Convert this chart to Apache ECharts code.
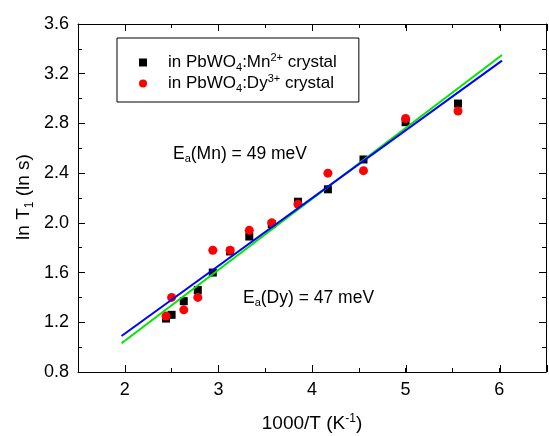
<!DOCTYPE html>
<html>
<head>
<meta charset="utf-8">
<script src="https://cdn.jsdelivr.net/npm/echarts@6/dist/echarts.min.js"></script>
<style>
  html, body { margin: 0; padding: 0; background: #fff; }
  #chart { width: 549px; height: 436px; }
</style>
</head>
<body>
<div id="chart"></div>
<script>
// 1000/T values (K^-1), same temperatures for both crystals
var invT = [2.44, 2.5, 2.63, 2.78, 2.94, 3.125, 3.33, 3.57, 3.85, 4.17, 4.55, 5.0, 5.56];
var lnMn = [1.23, 1.26, 1.37, 1.46, 1.60, 1.77, 1.89, 1.99, 2.17, 2.27, 2.51, 2.81, 2.96];
var lnDy = [1.25, 1.40, 1.30, 1.40, 1.78, 1.78, 1.94, 2.00, 2.15, 2.40, 2.42, 2.84, 2.90];

// linear fits (end points)
var fitMn = [[1.965, 1.09], [6.03, 3.305]];
var fitDy = [[1.965, 1.031], [6.03, 3.35]];

var FONT = '"Liberation Sans", Arial, sans-serif';

function pairs(xs, ys) {
  return xs.map(function (x, i) { return [x, ys[i]]; });
}

var richBase = function (size) {
  return {
    n: { fontSize: size, fontFamily: FONT, color: '#000', lineHeight: size + 4 },
    sub: { fontSize: Math.round(size * 0.65), fontFamily: FONT, color: '#000', verticalAlign: 'bottom', lineHeight: Math.round(size * 0.55) },
    sup: { fontSize: Math.round(size * 0.65), fontFamily: FONT, color: '#000', verticalAlign: 'top', lineHeight: Math.round(size * 0.75) }
  };
};

var chart = echarts.init(document.getElementById('chart'));

var frameX = {
  min: 1.5, max: 6.5,
  axisLine: { show: true, lineStyle: { color: '#000', width: 1 } },
  splitLine: { show: false }
};
var frameY = {
  min: 0.8, max: 3.6, interval: 0.4,
  axisLine: { show: true, lineStyle: { color: '#000', width: 1 } },
  axisTick: { show: true, inside: true, length: 7, lineStyle: { color: '#000' } },
  minorTick: { show: true, splitNumber: 2, length: 4, lineStyle: { color: '#000' } },
  splitLine: { show: false }
};

var option = {
  backgroundColor: '#fff',
  animation: false,
  grid: [
    { left: 78, top: 24, right: 2, bottom: 64 },
    { left: 78, top: 24, right: 2, bottom: 64 }
  ],
  legend: {
    left: 117, top: 38,
    orient: 'vertical',
    padding: [14, 22, 8, 22],
    itemGap: 0,
    itemWidth: 8, itemHeight: 8,
    borderColor: '#000', borderWidth: 1,
    backgroundColor: '#fff',
    selectedMode: false,
    data: [
      { name: 'Mn', icon: 'rect' },
      { name: 'Dy', icon: 'circle' }
    ],
    formatter: function (name) {
      return name === 'Mn'
        ? '{n|in PbWO}{sub|4}{n|:Mn}{sup|2+}{n| crystal}'
        : '{n|in PbWO}{sub|4}{n|:Dy}{sup|3+}{n| crystal}';
    },
    textStyle: { padding: [0, 0, 0, 16], rich: richBase(17) }
  },
  xAxis: [
    Object.assign({}, frameX, {
      type: 'value', gridIndex: 0, position: 'bottom', interval: 0.5,
      axisTick: { show: true, inside: true, length: 4, lineStyle: { color: '#000' } },
      axisLabel: {
        show: true, margin: 9, color: '#000', fontSize: 18, fontFamily: FONT,
        formatter: function (v) { return Math.abs(v - Math.round(v)) < 1e-6 ? String(Math.round(v)) : ''; }
      }
    }),
    Object.assign({}, frameX, {
      type: 'value', gridIndex: 0, position: 'top', interval: 0.5,
      axisTick: { show: true, inside: true, length: 4, lineStyle: { color: '#000' } },
      axisLabel: { show: false }
    }),
    Object.assign({}, frameX, {
      type: 'value', gridIndex: 1, position: 'bottom', splitNumber: 5,
      axisLine: { show: false },
      axisTick: { show: true, inside: true, length: 7, lineStyle: { color: '#000' } },
      axisLabel: { show: false }
    }),
    Object.assign({}, frameX, {
      type: 'value', gridIndex: 1, position: 'top', splitNumber: 5,
      axisLine: { show: false },
      axisTick: { show: true, inside: true, length: 7, lineStyle: { color: '#000' } },
      axisLabel: { show: false }
    })
  ],
  yAxis: [
    Object.assign({}, frameY, {
      type: 'value', gridIndex: 0, position: 'left',
      axisLabel: {
        show: true, margin: 9, color: '#000', fontSize: 18, fontFamily: FONT,
        formatter: function (v) { return v.toFixed(1); }
      }
    }),
    Object.assign({}, frameY, {
      type: 'value', gridIndex: 0, position: 'right',
      axisLabel: { show: false }
    }),
    { type: 'value', gridIndex: 1, min: 0.8, max: 3.6, show: false }
  ],
  graphic: [
    {
      type: 'text',
      x: 24, y: 197,
      rotation: Math.PI / 2,
      style: {
        text: '{n|ln T}{sub|1}{n| (ln s)}',
        rich: richBase(19),
        align: 'center', verticalAlign: 'middle'
      }
    },
    {
      type: 'text',
      x: 312, y: 424,
      style: {
        text: '{n|1000/T (K}{sup|-1}{n|)}',
        rich: richBase(19),
        align: 'center', verticalAlign: 'middle'
      }
    },
    {
      type: 'text',
      x: 173, y: 154,
      style: {
        text: '{n|E}{sub|a}{n|(Mn) = 49 meV}',
        rich: richBase(17.5),
        align: 'left', verticalAlign: 'middle'
      }
    },
    {
      type: 'text',
      x: 243, y: 298,
      style: {
        text: '{n|E}{sub|a}{n|(Dy) = 47 meV}',
        rich: richBase(17.5),
        align: 'left', verticalAlign: 'middle'
      }
    }
  ],
  series: [
    {
      name: 'Mn', type: 'scatter', xAxisIndex: 0, yAxisIndex: 0,
      symbol: 'rect', symbolSize: 8,
      itemStyle: { color: '#000', opacity: 1 },
      data: pairs(invT, lnMn), z: 2
    },
    {
      name: 'Dy', type: 'scatter', xAxisIndex: 0, yAxisIndex: 0,
      symbol: 'circle', symbolSize: 9,
      itemStyle: { color: '#ff0000', opacity: 1 },
      data: pairs(invT, lnDy), z: 3
    },
    {
      name: 'fitDy', type: 'line', xAxisIndex: 0, yAxisIndex: 0,
      showSymbol: false, symbol: 'none',
      lineStyle: { color: '#00e600', width: 2 },
      data: fitDy, z: 4
    },
    {
      name: 'fitMn', type: 'line', xAxisIndex: 0, yAxisIndex: 0,
      showSymbol: false, symbol: 'none',
      lineStyle: { color: '#0000ff', width: 2 },
      data: fitMn, z: 5
    }
  ]
};

chart.setOption(option);
</script>
</body>
</html>
